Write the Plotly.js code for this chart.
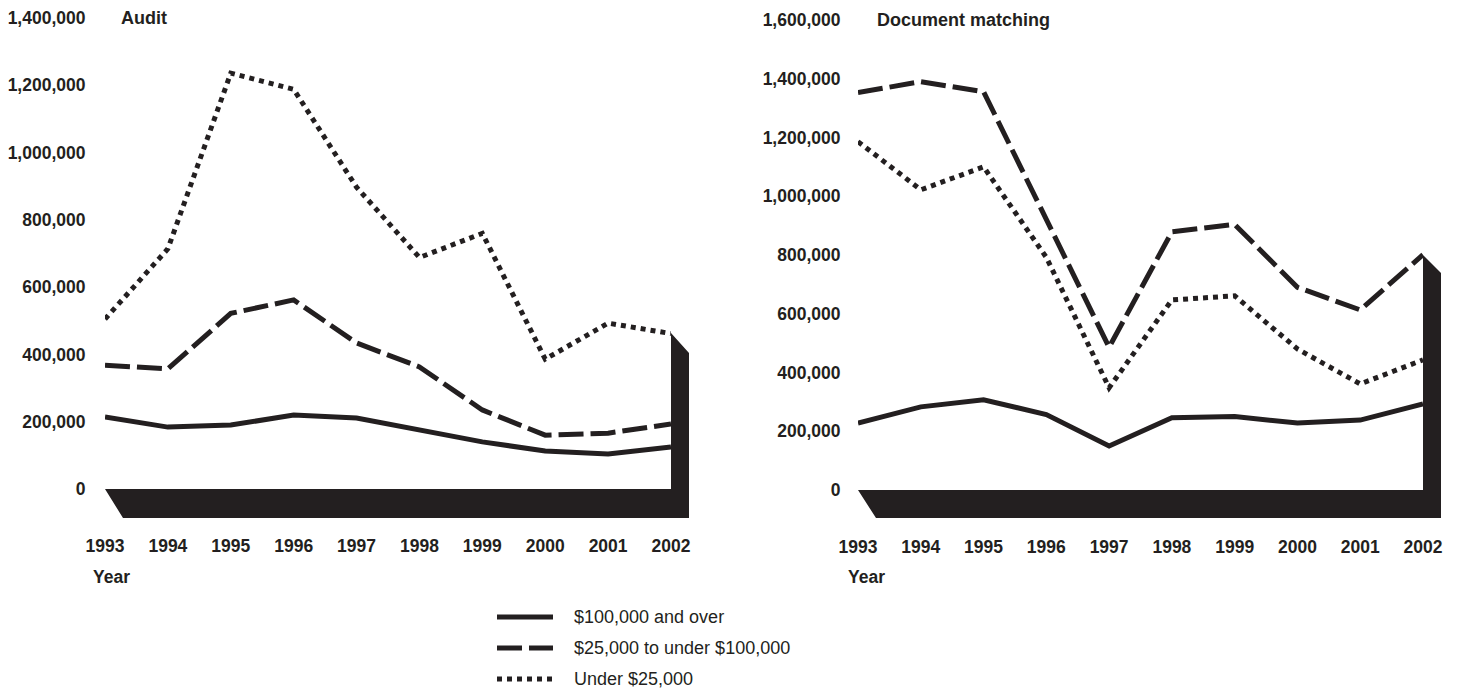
<!DOCTYPE html>
<html>
<head>
<meta charset="utf-8">
<script src="https://cdn.plot.ly/plotly-3.0.1.min.js"></script>
<style>
html,body{margin:0;padding:0;background:#fff;}
#chart{width:1459px;height:691px;}
</style>
</head>
<body>
<div id="chart"></div>
<script>
// ---- Data ----
const years = [1993, 1994, 1995, 1996, 1997, 1998, 1999, 2000, 2001, 2002];
const seriesNames = ['$100,000 and over', '$25,000 to under $100,000', 'Under $25,000'];
const panelTitles = ['Audit', 'Document matching'];
const xAxisLabel = 'Year';

const auditOver100k  = [214000, 184000, 190000, 220000, 211000, 176000, 140000, 113000, 104000, 125000];
const auditMid       = [368000, 357000, 522000, 562000, 434000, 363000, 235000, 160000, 166000, 193000];
const auditUnder25k  = [505000, 714000, 1236000, 1188000, 897000, 688000, 760000, 386000, 493000, 462000];

const docOver100k    = [228000, 283000, 307000, 257000, 150000, 246000, 250000, 228000, 238000, 293000];
const docMid         = [1353000, 1390000, 1356000, 920000, 486000, 879000, 904000, 690000, 613000, 801000];
const docUnder25k    = [1186000, 1022000, 1100000, 792000, 348000, 647000, 661000, 480000, 361000, 443000];

const auditTicks = [0, 200000, 400000, 600000, 800000, 1000000, 1200000, 1400000];
const docTicks   = [0, 200000, 400000, 600000, 800000, 1000000, 1200000, 1400000, 1600000];

// ---- Styles ----
const INK = '#231f20';
const W = 1459, H = 691;
const px = x => x / W;
const py = y => 1 - y / H;
const lineStyles = [
  {color: INK, width: 5, dash: 'solid'},
  {color: INK, width: 5, dash: '25px,7px'},
  {color: INK, width: 5, dash: '5px,5px'}
];
const FONT = 'Liberation Sans, Arial, Helvetica, sans-serif';

function mk(y, i, xa, ya) {
  return {x: years, y: y, type: 'scatter', mode: 'lines', name: seriesNames[i],
          line: lineStyles[i], xaxis: xa, yaxis: ya, showlegend: false, hoverinfo: 'x+y'};
}

const traces = [
  mk(auditOver100k, 0, 'x', 'y'),
  mk(auditMid, 1, 'x', 'y'),
  mk(auditUnder25k, 2, 'x', 'y'),
  mk(docOver100k, 0, 'x2', 'y2'),
  mk(docMid, 1, 'x2', 'y2'),
  mk(docUnder25k, 2, 'x2', 'y2')
];

const tickFont = {family: FONT, size: 17.5, color: INK, weight: 'bold'};

function xAxis(domain) {
  return {domain: domain, range: [1993, 2002], tickmode: 'array', tickvals: years,
          ticktext: years.map(String), showgrid: false, zeroline: false, showline: false,
          ticks: 'outside', ticklen: 41, tickcolor: 'rgba(0,0,0,0)', tickfont: tickFont, fixedrange: true};
}
function yAxis(domain, ticks, anchor, tl) {
  return {domain: domain, range: [0, ticks[ticks.length - 1]], tickmode: 'array', tickvals: ticks,
          tickformat: ',d', showgrid: false, zeroline: false, showline: false, anchor: anchor,
          ticks: 'outside', ticklen: tl, tickcolor: 'rgba(0,0,0,0)', tickfont: tickFont, fixedrange: true};
}

function poly(pts) {
  return 'M ' + pts.map(p => px(p[0]) + ',' + py(p[1])).join(' L ') + ' Z';
}

const shapes = [
  {type: 'path', xref: 'paper', yref: 'paper', layer: 'below', fillcolor: INK, line: {width: 0},
   path: poly([[105, 489], [671, 489], [671, 333], [689, 353], [689, 518], [123, 518]])},
  {type: 'path', xref: 'paper', yref: 'paper', layer: 'below', fillcolor: INK, line: {width: 0},
   path: poly([[858, 490], [1423, 490], [1423, 255], [1441, 273], [1441, 518], [876, 518]])}
];

// legend (drawn as keys + labels)
const legendRows = [617, 648, 679];
const annotations = [];
seriesNames.forEach((n, i) => {
  shapes.push({type: 'line', xref: 'paper', yref: 'paper', x0: px(497), x1: px(553),
               y0: py(legendRows[i]), y1: py(legendRows[i]), line: lineStyles[i]});
  annotations.push({xref: 'paper', yref: 'paper', x: px(572), y: py(legendRows[i]), xanchor: 'left',
                    yanchor: 'middle', showarrow: false, text: n,
                    font: {family: FONT, size: 18, color: INK}});
});

annotations.push(
  {xref: 'paper', yref: 'paper', x: px(119), y: py(18), xanchor: 'left', yanchor: 'middle', showarrow: false,
   text: panelTitles[0], font: {family: FONT, size: 18, color: INK, weight: 'bold'}},
  {xref: 'paper', yref: 'paper', x: px(875), y: py(20), xanchor: 'left', yanchor: 'middle', showarrow: false,
   text: panelTitles[1], font: {family: FONT, size: 18, color: INK, weight: 'bold'}},
  {xref: 'paper', yref: 'paper', x: px(91), y: py(577), xanchor: 'left', yanchor: 'middle', showarrow: false,
   text: xAxisLabel, font: {family: FONT, size: 17.5, color: INK, weight: 'bold'}},
  {xref: 'paper', yref: 'paper', x: px(846), y: py(577), xanchor: 'left', yanchor: 'middle', showarrow: false,
   text: xAxisLabel, font: {family: FONT, size: 17.5, color: INK, weight: 'bold'}}
);

const layout = {
  width: W, height: H,
  margin: {l: 0, r: 0, t: 0, b: 0, pad: 0},
  paper_bgcolor: '#fff', plot_bgcolor: 'rgba(0,0,0,0)',
  showlegend: false,
  font: {family: FONT, color: INK},
  xaxis: xAxis([px(105), px(671)]),
  yaxis: yAxis([py(489), py(18)], auditTicks, 'x', 15),
  xaxis2: Object.assign(xAxis([px(858), px(1423)]), {anchor: 'y2'}),
  yaxis2: yAxis([py(490), py(20)], docTicks, 'x2', 13),
  shapes: shapes,
  annotations: annotations
};
layout.xaxis.anchor = 'y';

Plotly.newPlot('chart', traces, layout, {displayModeBar: false, staticPlot: true});
</script>
</body>
</html>
